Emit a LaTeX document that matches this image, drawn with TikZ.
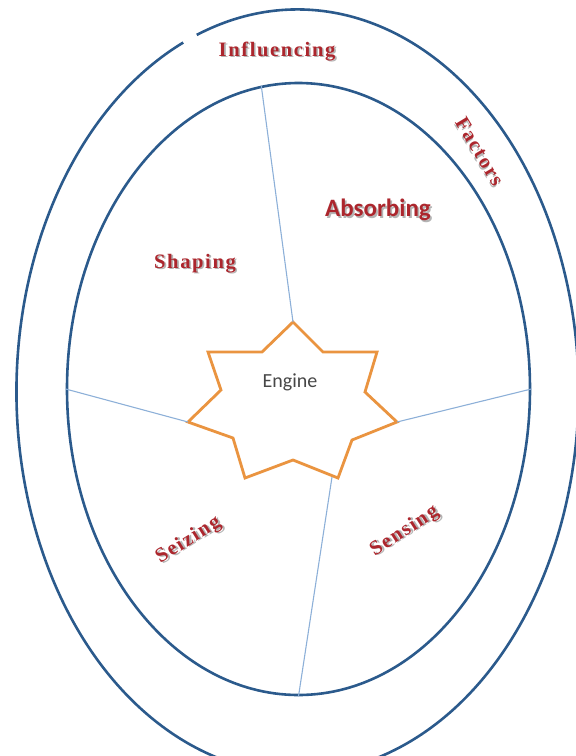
\documentclass[tikz,border=0pt]{standalone}
\usepackage{fontspec}
\usetikzlibrary{shapes.geometric}
\newfontfamily\labfont[LetterSpace=8]{Liberation Serif}
\newfontfamily\absfont{Carlito}
\definecolor{ringblue}{HTML}{2B5A8C}
\definecolor{divblue}{HTML}{8DB0D8}
\definecolor{starorange}{HTML}{EA9440}
\definecolor{labred}{HTML}{AC262D}
\definecolor{shadowgray}{HTML}{B4B4B4}
\tikzset{
  ring/.style={draw=ringblue, line width=2.6pt},
  divider/.style={draw=divblue, line width=1.1pt},
  starline/.style={draw=starorange, line width=2.8pt, line join=miter},
  lab/.style={font=\labfont\bfseries\fontsize{20.5}{22}\selectfont, inner sep=0pt, text=labred},
  abslab/.style={font=\absfont\bfseries\fontsize{25}{27}\selectfont, inner sep=0pt, text=labred},
}
\newcommand{\shtext}[1]{\rlap{\kern1.7pt\raisebox{-1.7pt}{\textcolor{shadowgray}{#1}}}#1}
\begin{document}
\begin{tikzpicture}[x=1pt,y=-1pt]
\clip (0,0) rectangle (576,756);
\useasboundingbox (0,0) rectangle (576,756);
% outer ring with small break
\draw[ring] (196.8,34.9) arc[start angle=249, end angle=606, x radius=281, y radius=382];
% inner ellipse
\node[ellipse, ring, minimum width=463pt, minimum height=612pt, inner sep=0pt] (inner) at (298.5,389) {};
% star
\coordinate (sT) at (293,322);
\coordinate (sL) at (188,422);
\coordinate (sR) at (397,422);
\coordinate (sB) at (332,477);
\draw[starline, fill=white] (293,322) -- (323,352) -- (377,352) -- (365,392) -- (397,422) -- (352,440) -- (338,478) -- (293,460) -- (245,478) -- (233,438) -- (188,422) -- (221,390) -- (208,352) -- (262,352) -- cycle;
\node[font=\absfont\fontsize{20}{22}\selectfont, text=black!72] (engine) at (290,382) {Engine};
% dividers
\draw[divider] (sT) -- (inner.97.7);
\draw[divider] (sL) -- (inner.180);
\draw[divider] (sR) -- (inner.0);
\draw[divider] (sB) -- (inner.270);
% labels
\node[lab] (infl) at (277,52) {\shtext{Influencing}};
\node[lab, rotate=-59] (fact) at (479,152) {\shtext{Factors}};
\node[lab] (shap) at (195,264) {\shtext{Shaping}};
\node[lab, rotate=32] (seiz) at (189,541) {\shtext{Seizing}};
\node[lab, rotate=33] (sens) at (405,532) {\shtext{Sensing}};
\node[abslab] (abso) at (378,211) {\shtext{Absorbing}};
\end{tikzpicture}
\end{document}
